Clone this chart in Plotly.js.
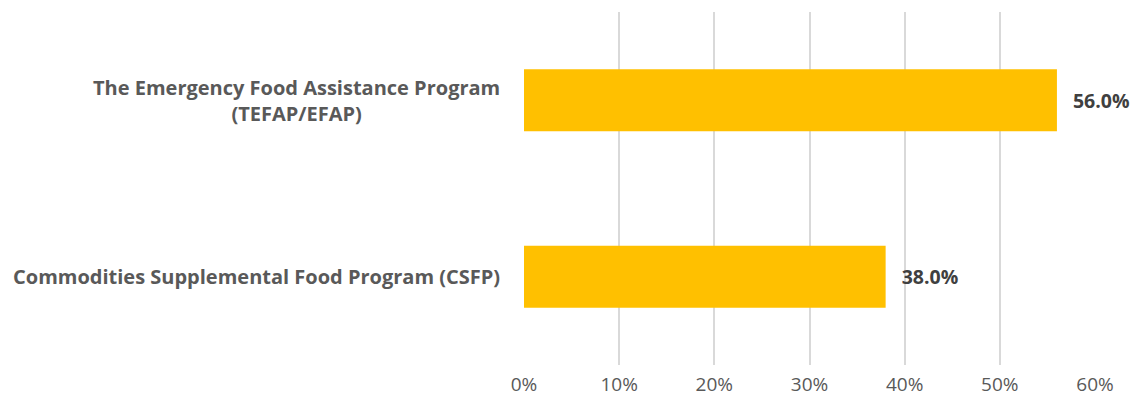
<!DOCTYPE html>
<html><head><meta charset="utf-8">
<script src="https://cdn.plot.ly/plotly-3.0.1.min.js"></script>
<style>html,body{margin:0;padding:0;background:#fff}#c{width:1137px;height:406px}</style>
</head><body><div id="c"></div>
<script>
const categories = ["Commodities Supplemental Food Program (CSFP)", "The Emergency Food Assistance Program<br>(TEFAP/EFAP)"];
const values = [0.38, 0.56];
const tickVals = [0, 0.1, 0.2, 0.3, 0.4, 0.5, 0.6];
const tickLabels = ["0%", "10%", "20%", "30%", "40%", "50%", "60%"];

const FONT = "Open Sans, Lato, sans-serif";
const trace = {
  type: "bar", orientation: "h",
  x: values, y: categories,
  marker: {color: "#FFC000"},
  width: 0.35,
  text: values.map(v => "\u2002\u2009" + (v*100).toFixed(1) + "%"),
  textposition: "outside",
  textfont: {family: FONT, size: 19.5, color: "#404040", weight: 700},
  cliponaxis: false,
  hoverinfo: "skip"
};
const annotations = categories.map(c => ({
  xref: "paper", yref: "y", x: 0, y: c, xanchor: "right", yanchor: "middle",
  xshift: -22, text: "<b>" + c + "</b>", showarrow: false, align: "center",
  font: {family: FONT, size: 20, color: "#595959"}
}));
const layout = {
  width: 1137, height: 406,
  margin: {l: 524, r: 42, t: 12, b: 41},
  paper_bgcolor: "#fff", plot_bgcolor: "#fff",
  showlegend: false,
  bargap: 0.65,
  xaxis: {range: [0, 0.6], tickvals: tickVals, ticktext: tickLabels,
    showgrid: true, gridcolor: "#d9d9d9", gridwidth: 2, zeroline: false,
    showline: false, ticks: "", ticklabelstandoff: 6,
    tickfont: {family: FONT, size: 19, color: "#595959"}},
  yaxis: {showticklabels: false, showgrid: false, zeroline: false, showline: false, range: [-0.5, 1.5]},
  annotations: annotations
};
Plotly.newPlot("c", [trace], layout, {displayModeBar: false, staticPlot: true});
</script></body></html>
